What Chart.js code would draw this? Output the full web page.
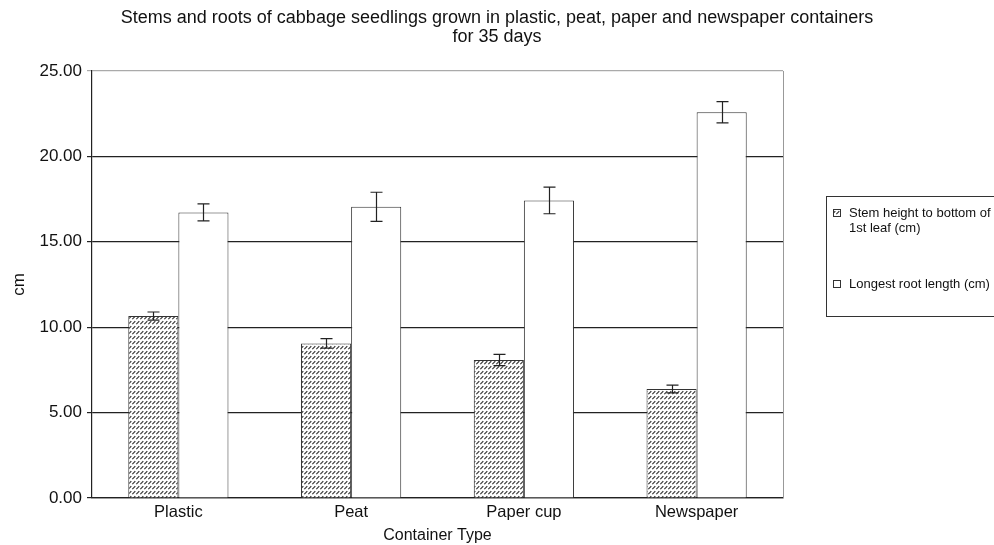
<!DOCTYPE html>
<html>
<head>
<meta charset="utf-8">
<script src="https://cdn.jsdelivr.net/npm/chart.js@4/dist/chart.umd.min.js"></script>
<style>
  html, body { margin: 0; padding: 0; background: #fff; }
  #wrap { width: 994px; height: 545px; }
</style>
</head>
<body>
<div id="wrap"><canvas id="c"></canvas></div>
<script>
var containers = ['Plastic', 'Peat', 'Paper cup', 'Newspaper'];
var stemHeight = [10.65, 9.05, 8.08, 6.38];
var stemErr = [0.24, 0.28, 0.33, 0.23];
var rootLength = [16.72, 17.05, 17.42, 22.58];
var rootErr = [0.50, 0.85, 0.78, 0.62];
var yTicks = [0, 5, 10, 15, 20, 25];

var FONT = 'Liberation Sans, Arial, sans-serif';

function hatchPattern() {
	var p = document.createElement('canvas');
	p.width = 4; p.height = 5;
	var g = p.getContext('2d');
	g.fillStyle = '#fff';
	g.fillRect(0, 0, 4, 5);
	g.strokeStyle = '#333';
	g.lineWidth = 1.2;
	g.beginPath();
	g.moveTo(0.3, 4.2);
	g.lineTo(3.3, 1.2);
	g.stroke();
	return document.getElementById('c').getContext('2d').createPattern(p, 'repeat');
}
var hatch = hatchPattern();

// error bars drawn from the scales
var errorBars = {
	id: 'errorBars',
	afterDatasetsDraw: function (chart) {
		var ctx = chart.ctx;
		var y = chart.scales.y;
		var errs = [stemErr, rootErr];
		ctx.save();
		ctx.strokeStyle = '#222';
		ctx.lineWidth = 1.2;
		chart.data.datasets.forEach(function (ds, di) {
			var meta = chart.getDatasetMeta(di);
			meta.data.forEach(function (bar, i) {
				var v = ds.data[i];
				var hi = y.getPixelForValue(v + errs[di][i]);
				var lo = y.getPixelForValue(v - errs[di][i]);
				var x = Math.round(bar.x) + 0.5;
				ctx.beginPath();
				ctx.moveTo(x, hi); ctx.lineTo(x, lo);
				ctx.moveTo(x - 6, hi); ctx.lineTo(x + 6, hi);
				ctx.moveTo(x - 6, lo); ctx.lineTo(x + 6, lo);
				ctx.stroke();
			});
		});
		ctx.restore();
	}
};

// right frame line + boxed legend
var frameAndLegend = {
	id: 'frameAndLegend',
	afterDraw: function (chart) {
		var ctx = chart.ctx;
		var a = chart.chartArea;
		ctx.save();
		ctx.strokeStyle = '#999';
		ctx.lineWidth = 1;
		ctx.beginPath();
		ctx.moveTo(Math.round(a.right) + 0.5, a.top);
		ctx.lineTo(Math.round(a.right) + 0.5, a.bottom);
		ctx.stroke();

		var bx = 826.5, by = 196.5, bw = 180, bh = 120;
		ctx.strokeStyle = '#333';
		ctx.strokeRect(bx, by, bw, bh);
		ctx.font = '13px ' + FONT;
		ctx.fillStyle = '#111';
		ctx.textBaseline = 'middle';
		var items = [
			{ fill: hatch, lines: ['Stem height to bottom of', '1st leaf (cm)'], y: 213 },
			{ fill: '#fff', lines: [chart.data.datasets[1].label], y: 284 }
		];
		items.forEach(function (it) {
			ctx.fillStyle = it.fill;
			ctx.fillRect(833, it.y - 4, 8, 8);
			ctx.strokeStyle = '#333';
			ctx.strokeRect(833.5, it.y - 3.5, 7, 7);
			ctx.fillStyle = '#111';
			it.lines.forEach(function (t, k) {
				ctx.fillText(t, 849, it.y + k * 15);
			});
		});
		ctx.restore();
	}
};

new Chart(document.getElementById('c'), {
	type: 'bar',
	data: {
		labels: containers,
		datasets: [
			{
				label: 'Stem height to bottom of 1st leaf (cm)',
				data: stemHeight,
				backgroundColor: hatch,
				borderColor: '#333',
				borderWidth: 1,
				categoryPercentage: 0.58,
				barPercentage: 1.0
			},
			{
				label: 'Longest root length (cm)',
				data: rootLength,
				backgroundColor: '#fff',
				borderColor: '#333',
				borderWidth: 1,
				categoryPercentage: 0.58,
				barPercentage: 1.0
			}
		]
	},
	options: {
		responsive: true,
		maintainAspectRatio: false,
		animation: false,
		layout: { padding: 0 },
		plugins: {
			legend: { display: false },
			tooltip: { enabled: false },
			title: {
				display: true,
				text: ['Stems and roots of cabbage seedlings grown in plastic, peat, paper and newspaper containers', 'for 35 days'],
				color: '#111',
				font: { family: FONT, size: 18, weight: 'normal', lineHeight: 1.06 },
				padding: { top: 8, bottom: 24.8 }
			}
		},
		scales: {
			x: {
				grid: { display: false, drawTicks: false },
				border: { color: '#222', width: 1.2 },
				ticks: { color: '#111', font: { family: FONT, size: 16.5 }, padding: 5 },
				title: { display: true, text: 'Container Type', color: '#111', font: { family: FONT, size: 16 }, padding: { top: 3, bottom: 0 } },
				afterFit: function (s) { s.height = 47; }
			},
			y: {
				min: 0,
				max: 25,
				afterBuildTicks: function (s) { s.ticks = yTicks.map(function (v) { return { value: v }; }); },
				grid: {
					color: function (c) { return c.tick && c.tick.value === 25 ? '#aaa' : '#222'; },
					lineWidth: 1.2,
					tickLength: 5
				},
				border: { color: '#222', width: 1.2 },
				ticks: {
					color: '#111',
					font: { family: FONT, size: 17 },
					padding: 5,
					callback: function (v) { return Number(v).toFixed(2); }
				},
				title: { display: true, text: 'cm', color: '#111', font: { family: FONT, size: 17 }, padding: { top: 9, bottom: 0 } },
				afterFit: function (s) { s.width = 92; }
			},
			spacer: {
				position: 'right',
				display: true,
				grid: { display: false, drawTicks: false },
				border: { display: false },
				ticks: { display: false },
				afterFit: function (s) { s.width = 211; }
			}
		}
	},
	plugins: [errorBars, frameAndLegend]
});
</script>
</body>
</html>
